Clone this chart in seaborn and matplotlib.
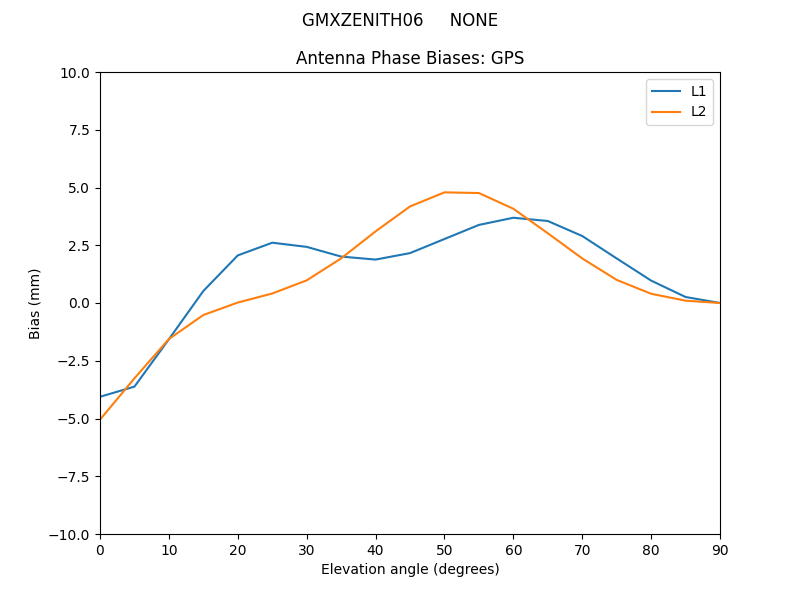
import numpy as np
import pandas as pd
import matplotlib
matplotlib.use('Agg')
import matplotlib.pyplot as plt
import seaborn as sns

# elevation angles and biases (mm)
elevation = [0, 5, 10, 15, 20, 25, 30, 35, 40, 45, 50, 55, 60, 65, 70, 75, 80, 85, 90]
l1_bias = [-4.06, -3.62, -1.57, 0.52, 2.06, 2.61, 2.43, 2.01, 1.88, 2.16, 2.77,
           3.38, 3.69, 3.55, 2.90, 1.93, 0.97, 0.26, 0.0]
l2_bias = [-5.05, -3.26, -1.56, -0.52, 0.02, 0.41, 0.98, 1.93, 3.10, 4.18, 4.79,
           4.76, 4.08, 3.02, 1.93, 1.00, 0.40, 0.10, 0.0]

df = pd.DataFrame({'elev': elevation, 'L1': l1_bias, 'L2': l2_bias})

fig, ax = plt.subplots(figsize=(8, 6), dpi=100)
sns.lineplot(data=df, x='elev', y='L1', ax=ax, label='L1', color='#1f77b4')
sns.lineplot(data=df, x='elev', y='L2', ax=ax, label='L2', color='#ff7f0e')

ax.set_xlim(0, 90)
ax.set_ylim(-10, 10)
ax.set_xlabel('Elevation angle (degrees)')
ax.set_ylabel('Bias (mm)')
ax.set_title('Antenna Phase Biases: GPS')
fig.suptitle('GMXZENITH06     NONE')
ax.legend(loc='upper right')

fig.savefig('out.png', dpi=100)
